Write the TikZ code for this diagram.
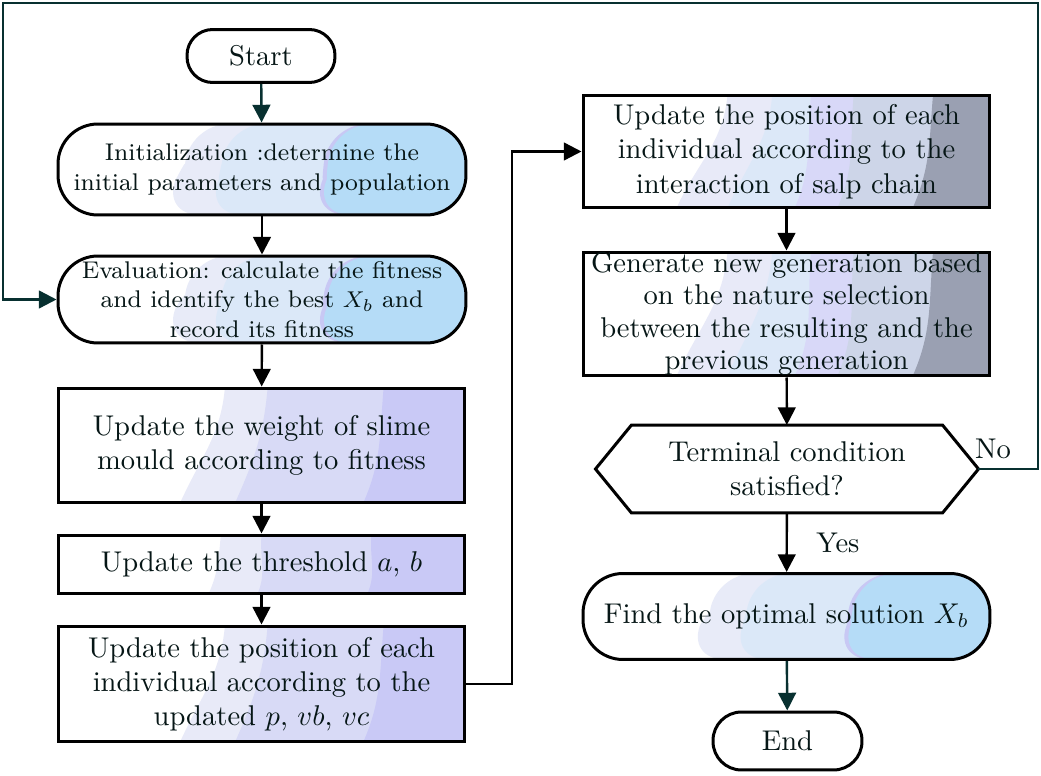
\documentclass[tikz,border=0pt]{standalone}
\usetikzlibrary{arrows.meta,calc}
\definecolor{txt}{HTML}{061616}
\definecolor{tealln}{HTML}{083030}
\definecolor{bA}{HTML}{E8EBF8}
\definecolor{bB}{HTML}{DBE8F8}
\definecolor{bC}{HTML}{C8C8F4}
\definecolor{bD}{HTML}{B5DCF7}
\definecolor{pA}{HTML}{E8EAF8}
\definecolor{pB}{HTML}{D8DAF6}
\definecolor{pC}{HTML}{C9C9F6}
\definecolor{gA}{HTML}{E8EAF8}
\definecolor{gB}{HTML}{DCE8F8}
\definecolor{gC}{HTML}{D8D8F8}
\definecolor{gD}{HTML}{CDD5E8}
\definecolor{gE}{HTML}{9AA0B2}
\newcommand\bandfill[3]{%
  \fill[#1] ($(path picture bounding box.north west)!#3!(path picture bounding box.north east)$)
    to[out=-95,in=66] ($(path picture bounding box.south west)!#2!(path picture bounding box.south east)$)
    -- (path picture bounding box.south east) -- (path picture bounding box.north east) -- cycle;}
\begin{document}
\begin{tikzpicture}[x=0.35pt,y=0.35pt,
  base/.style={draw=black, line width=1.05pt, text=txt, align=center, inner sep=0pt,
    font=\fontsize{10}{12}\selectfont, fill=white},
  cap/.style={base, rectangle, rounded corners=#1},
  box/.style={base, rectangle, minimum width=142.45pt},
  smallfont/.style={font=\fontsize{8.45}{10.4}\selectfont},
  blueband/.style={path picture={\bandfill{bA}{.25}{.32}\bandfill{bB}{.355}{.41}\bandfill{bC}{.61}{.66}\bandfill{bD}{.62}{.67}}},
  purpleband/.style={path picture={\bandfill{pA}{.30}{.41}\bandfill{pB}{.435}{.515}\bandfill{pC}{.75}{.80}}},
  purplethin/.style={path picture={\bandfill{pA}{.37}{.40}\bandfill{pB}{.49}{.50}\bandfill{pC}{.76}{.77}}},
  grayband/.style={path picture={\bandfill{gA}{.23}{.355}\bandfill{gB}{.355}{.465}\bandfill{gC}{.52}{.56}\bandfill{gD}{.625}{.665}\bandfill{gE}{.81}{.86}}},
  arr/.style={-{Triangle[length=6.2pt,width=6.2pt]}, line width=0.85pt, draw=black},
  tarr/.style={arr, draw=tealln},
  lbl/.style={text=txt, font=\fontsize{10}{12}\selectfont, inner sep=0pt}]
\useasboundingbox (0,0) rectangle (1041,-776);

% left column
\node[cap=9pt, minimum width=51.8pt, minimum height=18.55pt] (start) at (261,-56) {Start};
\node[cap=14pt, blueband, smallfont, minimum width=142.8pt, minimum height=31.85pt] (init) at (262,-169.5)
  {Initialization :determine the\\initial parameters and population};
\node[cap=14pt, blueband, smallfont, minimum width=142.8pt, minimum height=30.45pt] (eval) at (262,-299.5)
  {Evaluation: calculate the fitness\\and identify the best $X_b$ and\\record its fitness};
\node[box, purpleband, minimum height=40.25pt] (weight) at (261.5,-445.5)
  {Update the weight of slime\\mould according to fitness};
\node[box, purplethin, minimum height=20.65pt] (thr) at (261.5,-564.5)
  {Update the threshold $a$, $b$};
\node[box, purpleband, minimum height=40.6pt] (pos) at (261.5,-684)
  {Update the position of each\\individual according to the\\updated $p$, $vb$, $vc$};

% right column
\node[box, grayband, minimum height=39.55pt] (box1) at (786.5,-151.5)
  {Update the position of each\\individual according to the\\interaction of salp chain};
\node[box, grayband, minimum height=43.4pt, font=\fontsize{10}{11.4}\selectfont] (box2) at (786.5,-314)
  {Generate new generation based\\on the nature selection\\between the resulting and the\\previous generation};
\node[base, draw=none, minimum width=133pt, minimum height=29.75pt] (hex) at (787,-469)
  {Terminal condition\\satisfied?};
\draw[line width=1.05pt] (hex.west) -- ($(hex.north west)+(36,0)$) -- ($(hex.north east)+(-36,0)$)
  -- (hex.east) -- ($(hex.south east)+(-36,0)$) -- ($(hex.south west)+(36,0)$) -- cycle;
\node[cap=14pt, blueband, minimum width=142.45pt, minimum height=30.1pt] (find) at (786.5,-616.5)
  {Find the optimal solution $X_b$};
\node[cap=10pt, minimum width=52.15pt, minimum height=20.3pt] (endn) at (787.5,-741) {End};

\node[lbl] (yes) at (838,-543) {Yes};
\node[lbl] (no) at (993,-449) {No};

% connectors
\coordinate (mid) at (512,-684);
\coordinate (tr) at (1038,-3);
\coordinate (tl) at (3,-3);
\draw[tarr] (start) -- (init);
\draw[arr] (init) -- (eval);
\draw[arr] (eval) -- (weight);
\draw[arr] (weight) -- (thr);
\draw[arr] (thr) -- (pos);
\draw[arr] (pos.east) -- (mid) |- (box1.west);
\draw[arr] (box1) -- (box2);
\draw[arr] (box2) -- (hex);
\draw[arr] (hex) -- (find);
\draw[tarr] (find) -- (endn);
\draw[tarr] (hex.east) -| (tr) -- (tl) |- (eval.west);
\end{tikzpicture}
\end{document}
